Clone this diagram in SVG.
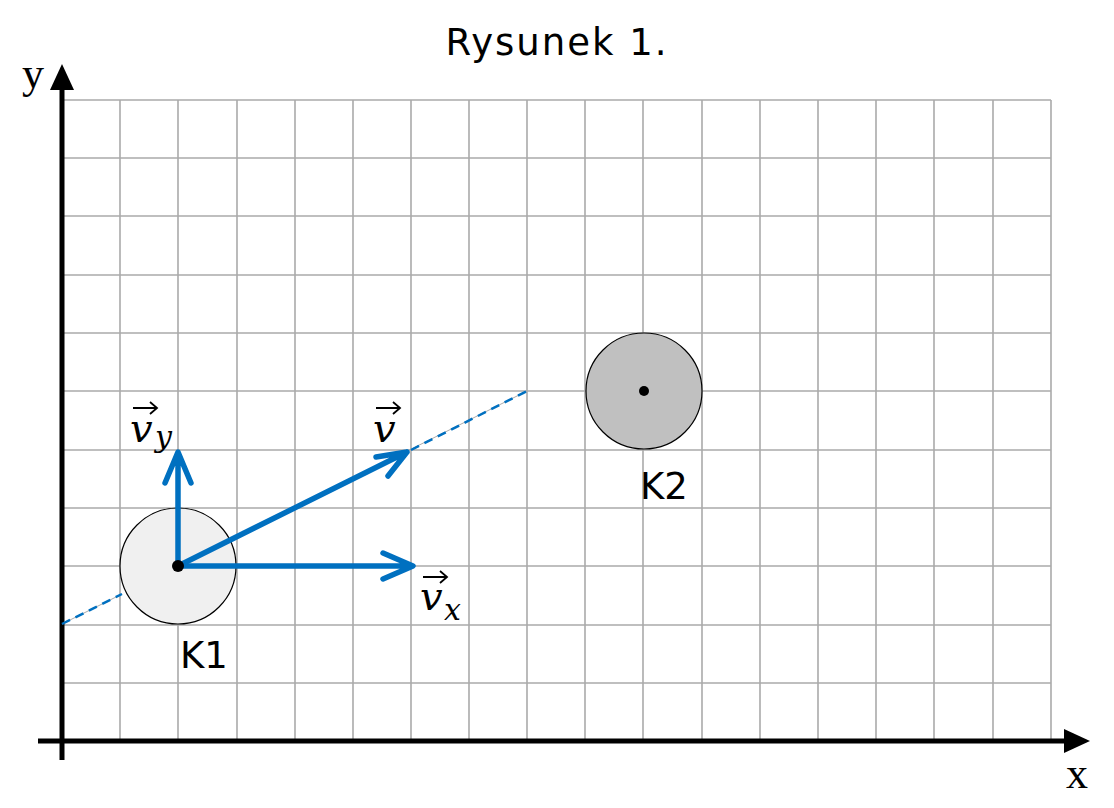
<svg xmlns="http://www.w3.org/2000/svg" width="1114" height="808" viewBox="0 0 1114 808">
<style>
.g{stroke:#aaa;stroke-width:1.6;fill:none}
.vec{stroke:#0070c0;stroke-width:5.5;fill:none;stroke-linecap:round;stroke-linejoin:round}
.lab{font-family:"DejaVu Sans",sans-serif;font-size:37px;fill:#000}
.m{font-family:"DejaVu Serif",serif;font-style:italic;font-size:40px;fill:#000}
.s{font-family:"DejaVu Serif",serif;font-style:italic;font-size:30px;fill:#000}
.ar{stroke:#000;stroke-width:1.8;fill:none}
</style>
<rect width="1114" height="808" fill="#fff"/>
<g id="grid" class="g">
<path d="M62 100H1051M62 158H1051M62 216H1051M62 275H1051M62 333H1051M62 391H1051M62 450H1051M62 508H1051M62 566H1051M62 625H1051M62 683H1051"/>
<path d="M120 100V741M178 100V741M237 100V741M295 100V741M353 100V741M411 100V741M469 100V741M527 100V741M585 100V741M643 100V741M702 100V741M760 100V741M818 100V741M876 100V741M934 100V741M993 100V741M1051 100V741"/>
</g>
<text x="557" y="55" class="lab" text-anchor="middle" letter-spacing="2">Rysunek 1.</text>
<g id="axes">
<path d="M62 760V86M38 741H1068" stroke="#000" stroke-width="5" fill="none"/>
<polygon points="62,64 50,90 74,90" fill="#000"/>
<polygon points="1090,741 1064,729 1064,753" fill="#000"/>
<text x="22" y="88" font-family="Liberation Serif,serif" font-size="44">y</text>
<text x="1066" y="788" font-family="Liberation Serif,serif" font-size="44">x</text>
</g>
<g id="K1">
<circle cx="178" cy="566" r="58" fill="#f0f0f0" stroke="#000" stroke-width="1.2"/>
<text x="180" y="668" class="lab">K1</text>
</g>
<g id="K2">
<circle cx="644" cy="391" r="58" fill="#c0c0c0" stroke="#000" stroke-width="1.2"/>
<circle cx="644" cy="391" r="5" fill="#000"/>
<text x="640" y="499" class="lab">K2</text>
</g>
<g id="connectors">
<path d="M62 624L122 594M232 539L527 391" stroke="#aaa" stroke-width="1"/>
<line x1="62" y1="624" x2="122" y2="594" stroke="#0070c0" stroke-width="2.5" stroke-dasharray="9,6"/>
<line x1="411" y1="450" x2="527" y2="391" stroke="#0070c0" stroke-width="2.5" stroke-dasharray="9,6"/>
<path class="vec" d="M178 566V455M165 483L178 452L191 483"/>
<path class="vec" d="M178 566H410M383 553L413 566L383 579"/>
<path class="vec" d="M178 566L407 452M376 457L407 452L388 476"/>
<circle cx="178" cy="566" r="6" fill="#000"/>
</g>
<g id="labels">
<text x="130" y="442" class="m">v</text><text x="155" y="447" class="s">y</text>
<path class="ar" d="M133 408H157M150 402L157 408L150 414"/>
<text x="373" y="442" class="m">v</text>
<path class="ar" d="M376 408H400M393 402L400 408L393 414"/>
<text x="420" y="610" class="m">v</text><text x="444" y="620" class="s">x</text>
<path class="ar" d="M423 577H447M440 571L447 577L440 583"/>
</g>
</svg>
